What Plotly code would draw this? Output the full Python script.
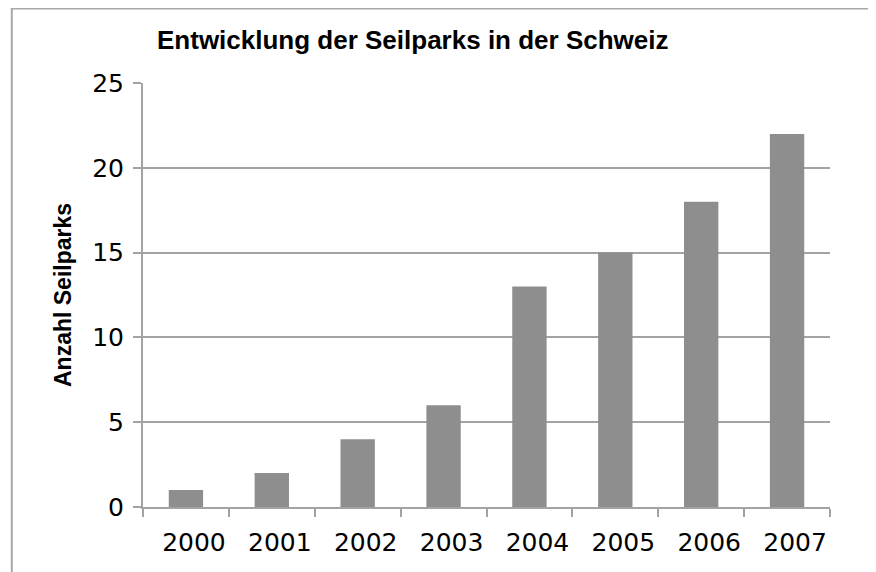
import plotly.graph_objects as go

years = ["2000", "2001", "2002", "2003", "2004", "2005", "2006", "2007"]
parks = [1, 2, 4, 6, 13, 15, 18, 22]

grey_line = "#a3a3a3"

fig = go.Figure()

fig.add_trace(go.Bar(
    x=years,
    y=parks,
    marker=dict(color="#8e8e8e", line=dict(width=0)),
    width=0.4,
))

# page body has an 8px margin, so the figure is shifted up/left by 8
fig.update_layout(
    width=876,
    height=572,
    margin=dict(l=135, r=54, t=75, b=73),
    paper_bgcolor="white",
    plot_bgcolor="white",
    showlegend=False,
    xaxis=dict(
        type="category",
        showline=True,
        linecolor=grey_line,
        linewidth=2,
        ticks="outside",
        tickson="boundaries",
        ticklen=8,
        tickwidth=2,
        tickcolor=grey_line,
        showgrid=False,
        ticklabelstandoff=12,
        ticklabelshift=8,
        tickfont=dict(family="DejaVu Sans", size=25, color="black"),
    ),
    yaxis=dict(
        range=[0, 25],
        dtick=5,
        showline=True,
        linecolor=grey_line,
        linewidth=2,
        ticks="outside",
        ticklen=8,
        tickwidth=2,
        tickcolor=grey_line,
        showgrid=True,
        gridcolor=grey_line,
        gridwidth=2,
        zeroline=False,
        ticklabelstandoff=4,
        tickfont=dict(family="DejaVu Sans", size=25, color="black"),
        title=dict(
            text="<b>Anzahl Seilparks</b>",
            font=dict(family="Liberation Sans", size=23, color="black"),
            standoff=14,
        ),
    ),
    annotations=[dict(
        text="<b>Entwicklung der Seilparks in der Schweiz</b>",
        xref="paper", yref="paper",
        x=0.393, y=1.101,
        xanchor="center", yanchor="middle",
        showarrow=False,
        font=dict(family="Liberation Sans", size=26, color="black"),
    )],
    shapes=[dict(
        type="rect",
        xref="paper", yref="paper",
        x0=-0.191, x1=1.3, y0=-0.2, y1=1.176,
        line=dict(color="#a8a8a8", width=2),
        fillcolor="rgba(0,0,0,0)",
        layer="below",
    )],
)

fig.write_html("out.html")
